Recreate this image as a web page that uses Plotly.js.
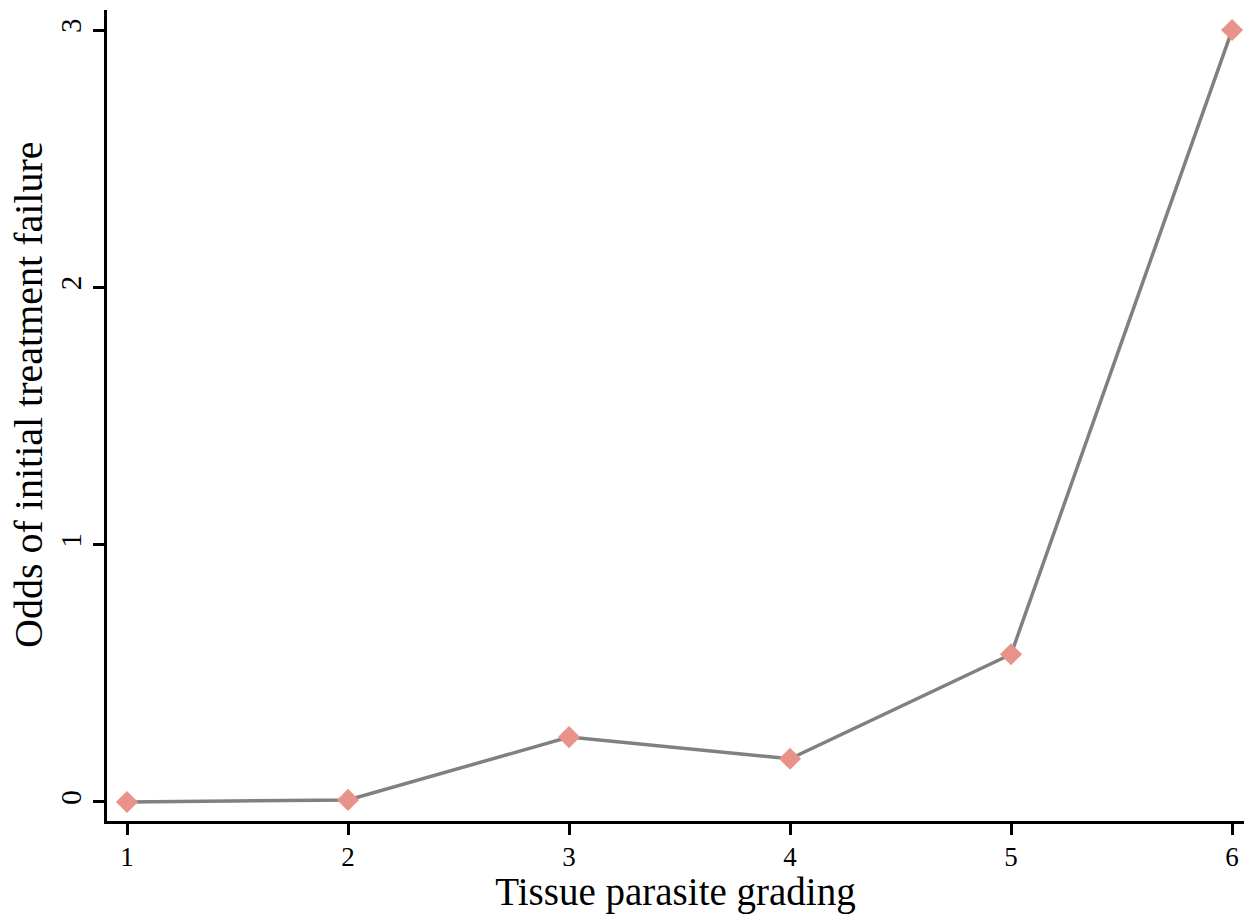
<!DOCTYPE html>
<html>
<head>
<meta charset="utf-8">
<script src="https://cdn.plot.ly/plotly-3.0.1.min.js"></script>
<style>html,body{margin:0;padding:0;background:#fff;}#chart{width:1244px;height:914px;}</style>
</head>
<body>
<div id="chart"></div>
<script>
const grades = [1, 2, 3, 4, 5, 6];
const odds = [0, 0.008, 0.252, 0.168, 0.574, 3.0];
const xTickVals = [1, 2, 3, 4, 5, 6];
const yTickVals = [0, 1, 2, 3];
const xTitle = 'Tissue parasite grading';
const yTitle = 'Odds of initial treatment failure';

const font = 'Liberation Serif, Times New Roman, serif';

Plotly.newPlot('chart', [{
  x: grades,
  y: odds,
  type: 'scatter',
  mode: 'lines+markers',
  line: {color: '#808080', width: 3.5},
  marker: {symbol: 'diamond', size: 17, color: '#e8928a'},
  hoverinfo: 'x+y'
}], {
  width: 1244,
  height: 914,
  margin: {l: 107, r: 0, t: 10, b: 93},
  paper_bgcolor: '#fff',
  plot_bgcolor: '#fff',
  showlegend: false,
  font: {family: font, color: '#000'},
  xaxis: {
    range: [0.9095, 6.054],
    tickvals: xTickVals,
    ticks: 'outside', ticklen: 11, tickwidth: 3, tickcolor: '#000',
    showline: true, linewidth: 3, linecolor: '#000',
    showgrid: false, zeroline: false,
    tickfont: {size: 27, family: font},
    ticklabelstandoff: -1,
    title: {text: xTitle, font: {size: 39, family: font}, standoff: 10}
  },
  yaxis: {
    range: [-0.074, 3.078],
    tickvals: yTickVals,
    tickangle: -90,
    ticks: 'outside', ticklen: 11, tickwidth: 3, tickcolor: '#000',
    showline: true, linewidth: 3, linecolor: '#000',
    showgrid: false, zeroline: false,
    tickfont: {size: 29, family: font}
  },
  annotations: [{
    text: yTitle,
    xref: 'paper', yref: 'paper',
    x: -0.0695, y: 0.5265,
    xanchor: 'center', yanchor: 'middle',
    textangle: -90,
    showarrow: false,
    font: {size: 40, family: font, color: '#000'}
  }]
}, {displayModeBar: false});
</script>
</body>
</html>
